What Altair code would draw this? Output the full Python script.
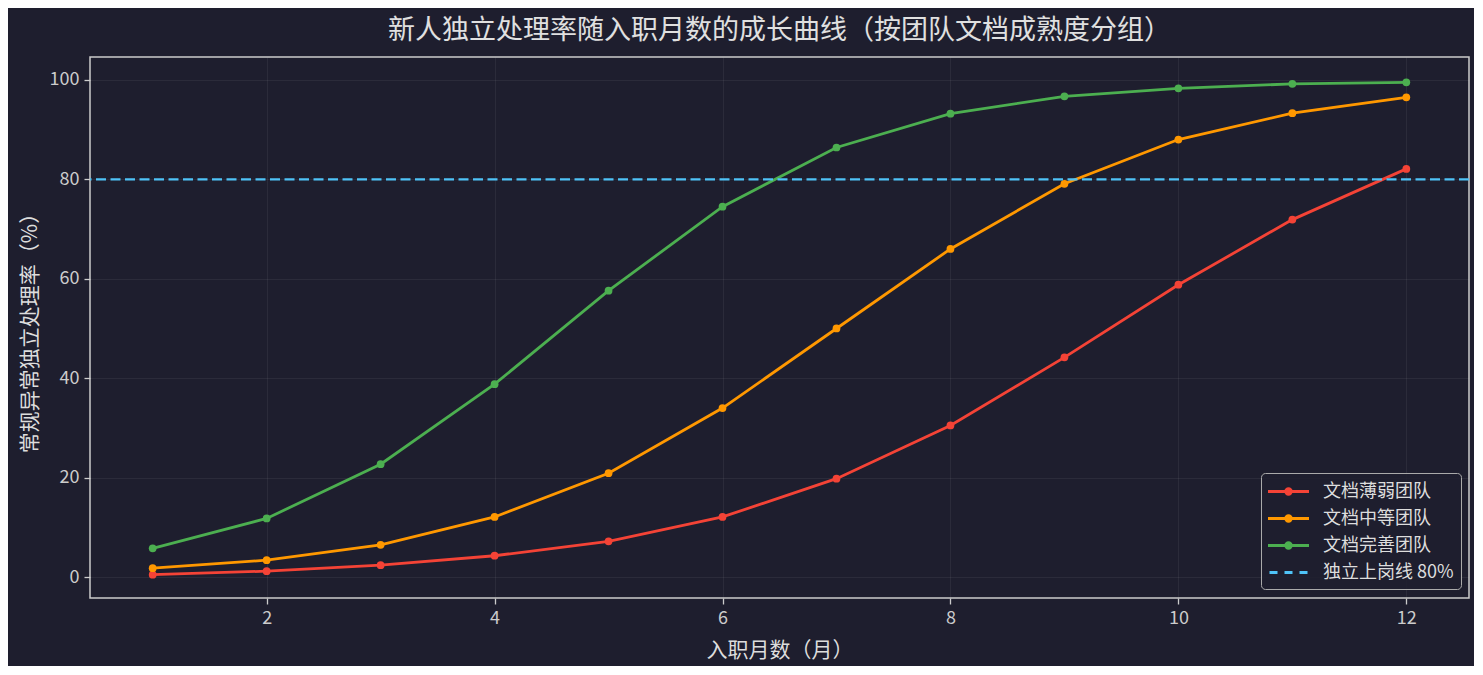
import altair as alt
import pandas as pd

months = list(range(1, 13))
series_names = ["文档薄弱团队", "文档中等团队", "文档完善团队"]
weak = [0.5, 1.2, 2.4, 4.3, 7.2, 12.1, 19.8, 30.5, 44.2, 58.8, 71.9, 82.1]
medium = [1.8, 3.4, 6.5, 12.1, 20.9, 34.0, 50.0, 66.0, 79.1, 88.0, 93.3, 96.5]
strong = [5.8, 11.8, 22.7, 38.8, 57.6, 74.5, 86.4, 93.2, 96.7, 98.3, 99.2, 99.5]
threshold = 80
rule_label = "独立上岗线 80%"
colors = ["#f44336", "#ff9800", "#4caf50", "#4fc3f7"]
x_ticks = [2, 4, 6, 8, 10, 12]
y_ticks = [0, 20, 40, 60, 80, 100]

rows = []
for name, vals in zip(series_names, [weak, medium, strong]):
    for m, v in zip(months, vals):
        rows.append({"month": m, "rate": v, "group": name})
df = pd.DataFrame(rows)

FONT = "Noto Sans CJK SC"
BG = "#1e1e2e"
domain = series_names + [rule_label]

# legend glyphs (path units: 10 px each with symbolSize 400)
dot_line = ("M-2.05,0H2.05"
            "M0.28,0A0.28,0.28,0,1,1,-0.28,0A0.28,0.28,0,1,1,0.28,0"
            "M0.1,0A0.1,0.1,0,1,1,-0.1,0A0.1,0.1,0,1,1,0.1,0")
dash_line = "M-1.9,0H-1.1M-0.4,0H0.4M1.1,0H1.9"

color_scale = alt.Scale(domain=domain, range=colors)
shape_scale = alt.Scale(domain=domain, range=[dot_line, dot_line, dot_line, dash_line])

legend = alt.Legend(
    title=None,
    orient="none",
    legendX=1171,
    legendY=416,
    symbolSize=400,
    symbolOffset=9,
    symbolStrokeWidth=2.8,
    labelFontSize=18,
    labelFont=FONT,
    labelColor="#dddddd",
    labelOffset=23,
    rowPadding=6,
    padding=7,
    cornerRadius=4,
    strokeColor="#aaaaaa",
    fillColor="rgba(30,30,46,0.85)",
)

x_enc = alt.X(
    "month:Q",
    scale=alt.Scale(domain=[0.45, 12.55], nice=False, zero=False),
    axis=alt.Axis(values=x_ticks, title="入职月数（月）", format="d"),
)
y_enc = alt.Y(
    "rate:Q",
    scale=alt.Scale(domain=[-4.2, 104.6], nice=False, zero=False),
    axis=alt.Axis(values=y_ticks, title="常规异常独立处理率（%）"),
)

lines = alt.Chart(df).mark_line(strokeWidth=2.8).encode(
    x=x_enc,
    y=y_enc,
    color=alt.Color("group:N", scale=color_scale, legend=legend),
)
points = alt.Chart(df).mark_circle(size=60, opacity=1).encode(
    x="month:Q",
    y="rate:Q",
    color=alt.Color("group:N", scale=color_scale, legend=legend),
)
legend_layer = alt.Chart(df).transform_filter("false").mark_point(filled=False).encode(
    x="month:Q",
    y="rate:Q",
    color=alt.Color("group:N", scale=color_scale, legend=legend),
    shape=alt.Shape("group:N", scale=shape_scale, legend=legend),
)
rule = alt.Chart(pd.DataFrame({"y": [threshold]})).mark_rule(
    strokeWidth=2.2, strokeDash=[10, 4.5], color=colors[3]
).encode(
    y="y:Q",
)

chart = (
    alt.layer(lines, points, legend_layer, rule)
    .properties(
        width=1379,
        height=541,
        autosize=alt.AutoSizeParams(type="none"),
        padding={"left": 82, "top": 49, "right": 5, "bottom": 68},
        background=BG,
        title=alt.TitleParams(
            "新人独立处理率随入职月数的成长曲线（按团队文档成熟度分组）",
            font=FONT,
            fontSize=27,
            fontWeight="normal",
            color="#e0e0e0",
            anchor="middle",
            offset=12,
        ),
    )
    .configure_view(stroke="#cccccc", strokeWidth=1.5, fill=BG)
    .configure_axis(
        domain=False,
        grid=True,
        gridColor="#ffffff",
        gridOpacity=0.06,
        gridWidth=1,
        tickColor="#cccccc",
        tickSize=6,
        tickWidth=1.3,
        labelColor="#cccccc",
        labelFont=FONT,
        labelFontSize=18,
        labelPadding=5,
        titleColor="#dddddd",
        titleFont=FONT,
        titleFontSize=21,
        titleFontWeight="normal",
    )
    .configure_axisX(titlePadding=12)
    .configure_axisY(titlePadding=9)
)

chart.save("out.html", embed_options={"renderer": "svg", "actions": False})
